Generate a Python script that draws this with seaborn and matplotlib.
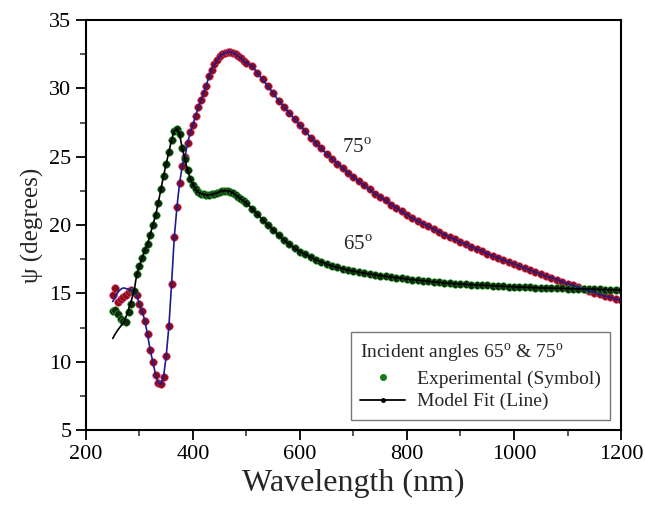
import seaborn as sns
import matplotlib.pyplot as plt
from matplotlib.lines import Line2D
from matplotlib.ticker import MultipleLocator


# wavelength grid (nm): 5 nm steps up to 500 nm, 10 nm steps after that
wl_fine = list(range(250, 501, 5))
wl_coarse = list(range(510, 1201, 10))

# experimental psi (degrees), incidence 65 deg
psi65_fine = [13.7, 13.8, 13.5, 13.1, 13.0, 12.9, 13.6, 14.2, 15.2, 16.4,
              17.0, 17.6, 18.15, 18.6, 19.3, 20.0, 20.7, 21.6, 22.6, 23.6,
              24.5, 25.35, 26.25, 26.9, 27.0, 26.65, 25.6, 24.8, 24.0, 23.4,
              22.95, 22.6, 22.4, 22.3, 22.25, 22.2, 22.2, 22.25, 22.3, 22.35,
              22.45, 22.5, 22.5, 22.5, 22.45, 22.35, 22.2, 22.05, 21.9, 21.75,
              21.6]
psi65_coarse = [21.2, 20.8, 20.4, 20.0, 19.65, 19.25, 18.9, 18.6, 18.3, 18.05,
                17.85, 17.65, 17.45, 17.3, 17.15, 17.0, 16.9, 16.8, 16.7, 16.62,
                16.55, 16.48, 16.42, 16.36, 16.3, 16.25, 16.2, 16.15, 16.1, 16.05,
                16.0, 15.96, 15.92, 15.88, 15.84, 15.8, 15.77, 15.74, 15.71, 15.68,
                15.66, 15.64, 15.62, 15.6, 15.58, 15.56, 15.54, 15.52, 15.5, 15.48,
                15.46, 15.45, 15.43, 15.42, 15.4, 15.39, 15.38, 15.37, 15.36, 15.35,
                15.34, 15.33, 15.32, 15.31, 15.3, 15.29, 15.28, 15.27, 15.26, 15.25]

# experimental psi (degrees), incidence 75 deg
psi75_fine = [14.9, 15.4, 14.4, 14.6, 14.7, 14.9, 15.1, 15.25, 15.2, 14.85,
              14.2, 13.7, 13.0, 12.0, 10.85, 10.0, 9.05, 8.45, 8.35, 8.9,
              10.45, 12.6, 15.7, 19.1, 21.3, 23.1, 24.3, 25.0, 26.0, 26.8,
              27.35, 28.0, 28.6, 29.15, 29.65, 30.2, 30.9, 31.35, 31.75, 32.05,
              32.35, 32.5, 32.6, 32.67, 32.68, 32.6, 32.5, 32.35, 32.2, 32.0,
              31.85]
psi75_coarse = [31.65, 31.15, 30.65, 30.15, 29.65, 29.1, 28.65, 28.2, 27.75, 27.3,
                26.85, 26.4, 26.0, 25.6, 25.2, 24.85, 24.5, 24.15, 23.8, 23.5,
                23.2, 22.9, 22.6, 22.3, 22.05, 21.8, 21.5, 21.25, 21.0, 20.75,
                20.5, 20.3, 20.1, 19.9, 19.7, 19.5, 19.3, 19.1, 18.95, 18.75,
                18.6, 18.4, 18.25, 18.1, 17.9, 17.75, 17.6, 17.45, 17.3, 17.15,
                17.0, 16.85, 16.7, 16.55, 16.4, 16.25, 16.15, 16.0, 15.85, 15.7,
                15.6, 15.45, 15.3, 15.2, 15.05, 14.95, 14.8, 14.7, 14.6, 14.5]

# model fit, only differs from the data below ~290 nm
fit65_head = [11.7, 12.05, 12.35, 12.6, 12.85, 13.3, 13.9, 14.5, 15.2]
fit75_head = [14.4, 14.75, 15.1, 15.3, 15.4, 15.35, 15.3, 15.2, 15.05]

wl = wl_fine + wl_coarse
psi65 = psi65_fine + psi65_coarse
psi75 = psi75_fine + psi75_coarse
n_head = len(fit65_head)
fit65 = fit65_head + psi65[n_head:]
fit75 = fit75_head + psi75[n_head:]

sns.set_style("ticks")
plt.rcParams["font.family"] = ["Liberation Serif", "DejaVu Serif"]
plt.rcParams["mathtext.fontset"] = "custom"
plt.rcParams["mathtext.rm"] = "Liberation Serif"

fig = plt.figure(figsize=(6.45, 5.08), dpi=100)
ax = fig.add_axes([0.1333, 0.1535, 0.8295, 0.8071])

# experimental symbols
sns.scatterplot(x=wl, y=psi75, ax=ax, s=30, color="#8c0c1a",
                edgecolor="#e0407e", linewidth=0.4, zorder=2)
sns.scatterplot(x=wl, y=psi65, ax=ax, s=30, color="#0f2a0f",
                edgecolor="#2fb02f", linewidth=0.4, zorder=2)

# model fit lines
sns.lineplot(x=wl, y=fit75, ax=ax, color="#1c1c8a", lw=1.2,
             estimator=None, sort=False, zorder=3)
sns.lineplot(x=wl, y=fit65, ax=ax, color="black", lw=1.2,
             estimator=None, sort=False, zorder=3)

ax.set_xlim(200, 1200)
ax.set_ylim(5, 35)
ax.xaxis.set_major_locator(MultipleLocator(200))
ax.xaxis.set_minor_locator(MultipleLocator(100))
ax.yaxis.set_major_locator(MultipleLocator(5))
ax.yaxis.set_minor_locator(MultipleLocator(2.5))
ax.tick_params(which="major", direction="out", length=7, width=1.3,
               labelsize=16, colors="black", top=False, right=False)
ax.tick_params(which="minor", direction="out", length=4, width=1.1,
               top=False, right=False)
for sp in ax.spines.values():
    sp.set_linewidth(1.5)
    sp.set_color("black")

ax.set_xlabel("Wavelength (nm)", fontsize=23)
ax.set_ylabel("ψ (degrees)", fontsize=18)

ax.text(678, 25.3, r"75$^{\mathrm{o}}$", fontsize=15)
ax.text(680, 18.2, r"65$^{\mathrm{o}}$", fontsize=15)

handles = [
    Line2D([], [], ls="none", marker="o", ms=4, color="#1a7a1a"),
    Line2D([], [], color="black", lw=1.3, marker="o", ms=2.5),
]
leg = ax.legend(handles, ["Experimental (Symbol)", "Model Fit (Line)"],
                title=r"Incident angles 65$^{\mathrm{o}}$ & 75$^{\mathrm{o}}$",
                title_fontsize=14, fontsize=14, loc="lower right",
                bbox_to_anchor=(0.98, 0.024), borderaxespad=0,
                frameon=True, fancybox=False, edgecolor="#777777",
                framealpha=1, handlelength=2.3, handletextpad=0.6,
                alignment="left", borderpad=0.5, labelspacing=0.25)
leg.get_frame().set_linewidth(1.0)

fig.savefig("out.png", dpi=100)
